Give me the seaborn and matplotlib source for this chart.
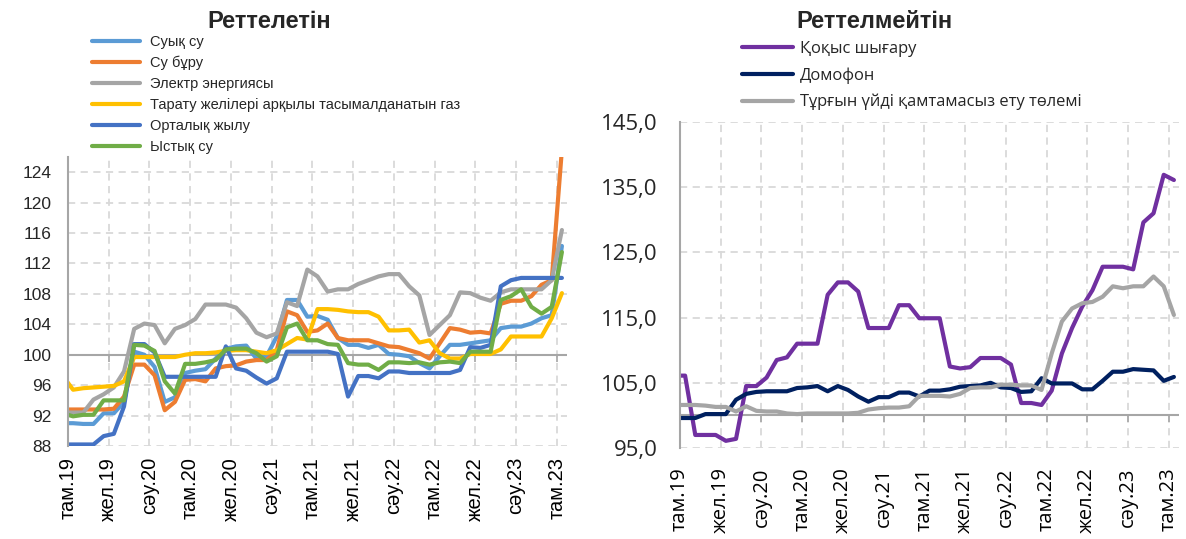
import numpy as np
import pandas as pd
import matplotlib
matplotlib.use("Agg")
import matplotlib.pyplot as plt
from matplotlib.lines import Line2D
import seaborn as sns

# ---------------- data ----------------
tick_labels = ['там.19', 'жел.19', 'сәу.20', 'там.20', 'жел.20', 'сәу.21', 'там.21',
               'жел.21', 'сәу.22', 'там.22', 'жел.22', 'сәу.23', 'там.23']

left_names = ['Суық су', 'Су бұру', 'Электр энергиясы',
              'Тарату желілері арқылы тасымалданатын газ', 'Орталық жылу', 'Ыстық су']

cold_water = [91.0, 91.0, 90.9, 90.9, 92.3, 92.3, 93.8, 100.4, 100.0, 98.4,
              93.8, 94.4, 97.6, 97.9, 98.1, 99.5, 100.8, 101.1, 101.2, 99.5,
              99.8, 102.4, 107.2, 107.2, 105.0, 105.1, 104.6, 102.2, 101.3, 101.3,
              100.9, 101.3, 100.1, 100.0, 99.8, 98.9, 98.2, 99.8, 101.3, 101.3,
              101.5, 101.7, 101.9, 103.5, 103.7, 103.7, 104.1, 104.8, 105.2, 114.3]
sewage = [92.8, 92.8, 92.8, 92.8, 92.8, 92.9, 94.5, 98.7, 98.7, 97.3,
          92.7, 93.8, 96.7, 96.8, 96.5, 98.2, 98.5, 98.6, 99.1, 99.3,
          99.3, 100.6, 105.7, 105.2, 103.0, 103.2, 104.1, 102.2, 101.9, 101.9,
          101.9, 101.5, 101.1, 101.0, 100.6, 100.2, 99.5, 101.5, 103.5, 103.3,
          102.9, 103.0, 102.8, 106.7, 107.1, 107.1, 107.7, 109.2, 109.8, 127.0]
electricity = [92.4, 92.4, 92.4, 94.1, 94.8, 95.7, 97.8, 103.4, 104.1, 103.9,
               101.5, 103.4, 103.9, 104.7, 106.6, 106.6, 106.6, 106.2, 104.8, 102.9,
               102.3, 102.8, 106.9, 106.4, 111.2, 110.3, 108.3, 108.6, 108.6, 109.3,
               109.8, 110.3, 110.6, 110.6, 109.0, 107.8, 102.6, 103.9, 105.2, 108.2,
               108.1, 107.5, 107.1, 108.2, 108.6, 108.6, 108.6, 108.6, 109.8, 116.4]
gas = [97.2, 95.4, 95.6, 95.7, 95.8, 95.9, 96.5, 99.7, 99.7, 99.7,
       99.7, 99.7, 100.0, 100.2, 100.2, 100.3, 100.5, 100.6, 100.6, 100.4,
       100.2, 100.6, 101.4, 102.2, 102.0, 106.0, 106.0, 105.9, 105.7, 105.6,
       105.6, 105.0, 103.2, 103.2, 103.3, 101.6, 101.9, 100.2, 99.5, 99.5,
       100.1, 100.1, 100.1, 100.7, 102.4, 102.4, 102.4, 102.4, 104.8, 108.1]
heating = [88.2, 88.2, 88.2, 88.2, 89.3, 89.6, 93.2, 101.4, 101.4, 100.3,
           97.1, 97.1, 97.1, 97.1, 97.1, 97.1, 101.1, 98.2, 97.9, 97.0,
           96.2, 96.9, 100.4, 100.4, 100.4, 100.4, 100.4, 100.1, 94.5, 97.2,
           97.2, 96.9, 97.8, 97.8, 97.6, 97.6, 97.6, 97.6, 97.6, 98.0,
           101.0, 100.9, 101.3, 109.0, 109.8, 110.1, 110.1, 110.1, 110.1, 110.1]
hot_water = [92.3, 91.9, 92.1, 92.1, 94.0, 94.0, 94.0, 101.3, 101.2, 100.5,
             96.5, 94.9, 98.8, 98.8, 99.0, 99.3, 100.7, 100.8, 100.8, 100.2,
             99.1, 99.8, 103.6, 104.1, 101.9, 101.9, 101.4, 101.3, 98.9, 98.7,
             98.7, 98.0, 99.0, 99.0, 98.9, 99.0, 98.7, 99.0, 99.1, 98.9,
             100.4, 100.4, 100.4, 107.2, 107.7, 108.6, 106.3, 105.4, 106.3, 113.5]

right_names = ['Қоқыс шығару', 'Домофон', 'Тұрғын үйді қамтамасыз ету төлемі']

garbage = [106.1, 106.1, 97.0, 97.0, 97.0, 96.1, 96.4, 104.5, 104.5, 105.8,
           108.5, 108.9, 111.0, 111.0, 111.0, 118.5, 120.4, 120.4, 119.0, 113.4,
           113.4, 113.4, 116.9, 116.9, 114.9, 114.9, 114.9, 107.5, 107.2, 107.4,
           108.8, 108.8, 108.8, 107.8, 101.9, 101.9, 101.6, 103.8, 109.5, 113.4,
           116.7, 119.2, 122.8, 122.8, 122.8, 122.4, 129.6, 131.0, 136.9, 136.1]
intercom = [99.6, 99.6, 99.6, 100.2, 100.2, 100.2, 102.4, 103.3, 103.6, 103.7,
            103.7, 103.7, 104.2, 104.3, 104.5, 103.7, 104.5, 103.9, 102.9, 102.1,
            102.8, 102.8, 103.5, 103.5, 102.9, 103.8, 103.8, 104.0, 104.4, 104.5,
            104.6, 105.0, 104.3, 104.2, 103.6, 103.7, 105.7, 104.9, 104.9, 104.9,
            104.0, 104.0, 105.3, 106.7, 106.7, 107.1, 107.0, 106.9, 105.3, 105.9]
housing = [101.6, 101.6, 101.6, 101.5, 101.3, 101.3, 100.6, 101.4, 100.7, 100.6,
           100.6, 100.3, 100.2, 100.3, 100.3, 100.3, 100.3, 100.3, 100.4, 100.9,
           101.1, 101.2, 101.2, 101.4, 103.0, 103.0, 103.0, 102.9, 103.3, 104.2,
           104.3, 104.3, 104.7, 104.7, 104.6, 104.6, 103.9, 109.5, 114.4, 116.4,
           117.2, 117.4, 118.2, 119.8, 119.5, 119.8, 119.8, 121.3, 119.8, 115.4]

left_series = [cold_water, sewage, electricity, gas, heating, hot_water]
right_series = [garbage, intercom, housing]

left_colors = ['#5B9BD5', '#ED7D31', '#A5A5A5', '#FFC000', '#4472C4', '#70AD47']
right_colors = ['#7030A0', '#002060', '#A5A5A5']

# ---------------- styling ----------------
sns.set_style('white')
ARIAL = ['Liberation Sans', 'DejaVu Sans']
CALIBRI = ['Open Sans', 'Noto Sans', 'DejaVu Sans']
plt.rcParams['font.family'] = ARIAL

W, H = 1186, 539
fig = plt.figure(figsize=(W / 100, H / 100), dpi=100)
axL = fig.add_axes([68 / W, 1 - 446 / H, 499 / W, (446 - 157) / H])
axR = fig.add_axes([680 / W, 1 - 448 / H, 499 / W, (448 - 122) / H])

n = len(cold_water)
pos = np.arange(n) - 0.5
xt = np.arange(0, 49, 4)


def long_df(names, series):
    frames = [pd.DataFrame({'pos': pos, 'value': vals, 'series': name})
              for name, vals in zip(names, series)]
    return pd.concat(frames, ignore_index=True)


dfL = long_df(left_names, left_series)
dfR = long_df(right_names, right_series)

sns.lineplot(data=dfL, x='pos', y='value', hue='series', hue_order=left_names,
             palette=left_colors, lw=3, ax=axL, legend=False, sort=False)
sns.lineplot(data=dfR, x='pos', y='value', hue='series', hue_order=right_names,
             palette=right_colors, lw=3, ax=axR, legend=False, sort=False)


def style(ax, ylim, yticks, fmt, fam, ysize, xsize, ypad, xpad):
    ax.set_xlim(0, 49)
    ax.set_ylim(*ylim)
    ax.set_xticks(xt)
    ax.set_xticklabels(tick_labels, rotation=90, fontsize=xsize, family=fam)
    ax.set_yticks(yticks)
    ax.set_yticklabels([fmt(v) for v in yticks], fontsize=ysize, family=fam)
    ax.grid(True, color='#d9d9d9', lw=1.3, ls=(0, (4, 3)))
    ax.set_axisbelow(True)
    for s in ['top', 'right', 'bottom']:
        ax.spines[s].set_visible(False)
    ax.spines['left'].set_color('#a6a6a6')
    ax.spines['left'].set_linewidth(1.5)
    ax.tick_params(axis='x', length=0, pad=xpad, colors='black')
    ax.tick_params(axis='y', length=5, color='#a6a6a6', width=1.2, pad=ypad)
    ax.axhline(100, color='#a6a6a6', lw=1.5, zorder=1.5)
    ax.plot(xt, [100] * len(xt), ls='none', marker=3, ms=5, mew=1.2,
            color='#a6a6a6', zorder=1.5)
    ax.set_xlabel('')
    ax.set_ylabel('')


style(axL, (88, 126), np.arange(88, 125, 4), lambda v: f'{v:d}', ARIAL, 12.5, 14.5, 7, 8)
style(axR, (95, 145), np.arange(95, 146, 10), lambda v: f'{v:.1f}'.replace('.', ','),
      CALIBRI, 16, 14.5, 11, 14)

# titles
fig.text(269 / W, 1 - 22 / H, 'Реттелетін', ha='center', va='center',
         fontsize=17, fontweight='bold', family=ARIAL)
fig.text(874 / W, 1 - 22 / H, 'Реттелмейтін', ha='center', va='center',
         fontsize=17, fontweight='bold', family=ARIAL)

# legends
hL = [Line2D([0], [0], color=c, lw=3) for c in left_colors]
fig.legend(hL, left_names, loc='upper left', bbox_to_anchor=(92 / W, 1 - 35 / H),
           frameon=False, borderpad=0, borderaxespad=0, handlelength=3.3,
           handletextpad=0.68, labelspacing=0.47,
           prop={'family': ARIAL, 'size': 10.5})
hR = [Line2D([0], [0], color=c, lw=3) for c in right_colors]
fig.legend(hR, right_names, loc='upper left', bbox_to_anchor=(742 / W, 1 - 41 / H),
           frameon=False, borderpad=0, borderaxespad=0, handlelength=3.1,
           handletextpad=0.42, labelspacing=0.62,
           prop={'family': CALIBRI, 'size': 11.9})

fig.savefig('out.png', dpi=100)
